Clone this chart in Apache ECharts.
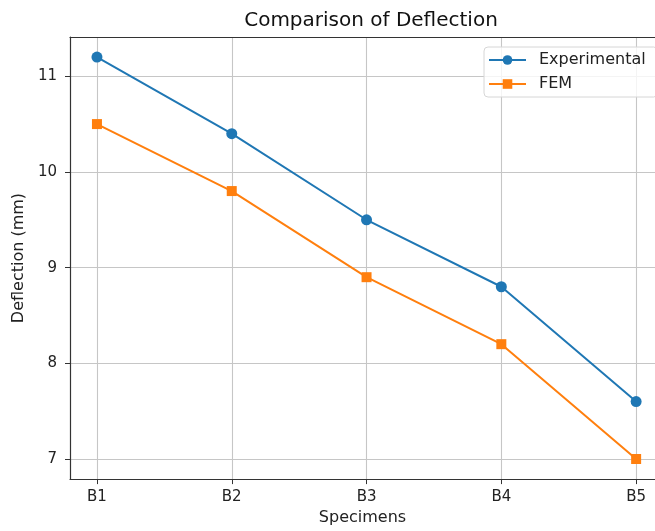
<!DOCTYPE html>
<html>
<head>
<meta charset="utf-8">
<script src="https://cdn.jsdelivr.net/npm/echarts@6/dist/echarts.min.js"></script>
<style>
  html, body { margin: 0; padding: 0; background: #fff; }
  #chart { width: 655px; height: 531px; }
</style>
</head>
<body>
<div id="chart"></div>
<script>
const specimens = ['B1', 'B2', 'B3', 'B4', 'B5'];
const experimental = [11.2, 10.4, 9.5, 8.8, 7.6];
const fem = [10.5, 9.8, 8.9, 8.2, 7.0];
const yTicks = [7, 8, 9, 10, 11];
const xTicks = [0, 1, 2, 3, 4];

const font = 'DejaVu Sans';
const toPairs = vals => vals.map((v, i) => [i, v]);
const spine = { show: true, onZero: false, lineStyle: { color: '#333', width: 1.2 } };
const gridLine = { show: true, lineStyle: { color: '#c6c6c6', width: 1.1 } };

const chart = echarts.init(document.getElementById('chart'));

const option = {
  animation: false,
  textStyle: { fontFamily: font },
  title: {
    text: 'Comparison of Deflection',
    left: 366,
    top: 6,
    textAlign: 'center',
    textStyle: { fontFamily: font, fontSize: 20, fontWeight: 'normal', color: '#111' }
  },
  legend: {
    left: 484,
    top: 47,
    orient: 'vertical',
    itemWidth: 37,
    itemHeight: 12,
    itemGap: 8,
    padding: [5, 12, 5, 4],
    borderColor: '#d6d6d6',
    borderWidth: 1,
    borderRadius: 4,
    backgroundColor: 'rgba(255,255,255,0.8)',
    textStyle: { fontFamily: font, fontSize: 16, color: '#222', padding: [0, 0, 0, 8] },
    data: ['Experimental', 'FEM']
  },
  grid: {
    left: 70,
    right: 0,
    top: 37,
    bottom: 51
  },
  xAxis: [
    {
      type: 'value',
      min: -0.2,
      max: 4.14,
      minInterval: 1,
      maxInterval: 1,
      name: 'Specimens',
      nameLocation: 'middle',
      nameGap: 30,
      nameTextStyle: { fontFamily: font, fontSize: 16, color: '#222' },
      axisLine: spine,
      axisTick: { show: true, length: 5, customValues: xTicks, lineStyle: { color: '#333' } },
      axisLabel: {
        margin: 11,
        fontFamily: font,
        fontSize: 15,
        color: '#222',
        customValues: xTicks,
        formatter: v => specimens[v] || ''
      },
      splitLine: gridLine
    },
    {
      type: 'value',
      position: 'top',
      min: -0.2,
      max: 4.14,
      axisLine: spine,
      axisTick: { show: false },
      axisLabel: { show: false },
      splitLine: { show: false }
    }
  ],
  yAxis: {
    type: 'value',
    min: 6.79,
    max: 11.41,
    minInterval: 1,
    maxInterval: 1,
    name: 'Deflection (mm)',
    nameLocation: 'middle',
    nameGap: 42,
    nameTextStyle: { fontFamily: font, fontSize: 16, color: '#222' },
    axisLine: spine,
    axisTick: { show: true, length: 5, customValues: yTicks, lineStyle: { color: '#333' } },
    axisLabel: {
      margin: 13,
      fontFamily: font,
      fontSize: 15,
      color: '#222',
      customValues: yTicks,
      formatter: v => String(v)
    },
    splitLine: gridLine
  },
  series: [
    {
      name: 'Experimental',
      type: 'line',
      data: toPairs(experimental),
      symbol: 'circle',
      symbolSize: 11,
      color: '#1f77b4',
      lineStyle: { width: 2, color: '#1f77b4' },
      itemStyle: { color: '#1f77b4' }
    },
    {
      name: 'FEM',
      type: 'line',
      data: toPairs(fem),
      symbol: 'rect',
      symbolSize: 10,
      color: '#ff7f0e',
      lineStyle: { width: 2, color: '#ff7f0e' },
      itemStyle: { color: '#ff7f0e' }
    }
  ]
};

chart.setOption(option);
</script>
</body>
</html>
